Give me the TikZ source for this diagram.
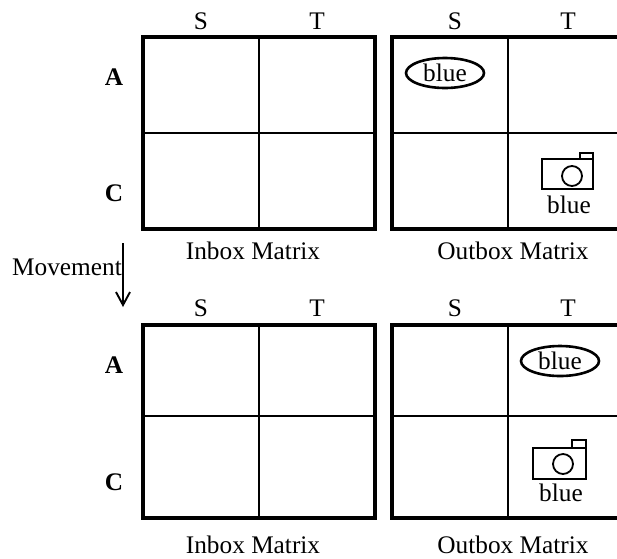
\documentclass[tikz,border=0pt]{standalone}
\usepackage{fontspec}
\setmainfont{Liberation Serif}
\usetikzlibrary{shapes.geometric,arrows.meta}
\begin{document}
\begin{tikzpicture}[x=1pt,y=-1pt,
  lbl/.style={font=\fontsize{25.3}{30}\selectfont, inner sep=0pt},
  rowlbl/.style={font=\fontsize{25.3}{30}\selectfont\bfseries, inner sep=0pt},
  outer/.style={line width=3.2pt},
  inner/.style={line width=2.6pt},
  oval/.style={draw, ellipse, line width=2.6pt, minimum width=78pt, minimum height=30pt, inner sep=0pt, font=\fontsize{25.3}{30}\selectfont},
  cam/.style={line width=1.8pt}
]
\useasboundingbox (0,0) rectangle (617,558);
\clip (0,0) rectangle (617,558);
% ---------- top matrices ----------
\draw[outer] (143,37) rectangle (375,229);
\draw[inner] (259,37) -- (259,229) (143,133) -- (375,133);
\draw[outer] (392,37) rectangle (625,229);
\draw[inner] (508,37) -- (508,229) (392,133) -- (625,133);
% ---------- bottom matrices ----------
\draw[outer] (143,325) rectangle (375,518);
\draw[inner] (259,325) -- (259,518) (143,416) -- (375,416);
\draw[outer] (392,325) rectangle (625,518);
\draw[inner] (508,325) -- (508,518) (392,416) -- (625,416);
% ---------- column labels ----------
\node[lbl] (s1) at (201,21) {S};
\node[lbl] (t1) at (317,21) {T};
\node[lbl] (s2) at (455,21) {S};
\node[lbl] (t2) at (568,21) {T};
\node[lbl] (s3) at (201,308) {S};
\node[lbl] (t3) at (317,308) {T};
\node[lbl] (s4) at (455,308) {S};
\node[lbl] (t4) at (568,308) {T};
% ---------- row labels ----------
\node[rowlbl] (a1) at (114,77) {A};
\node[rowlbl] (c1) at (114,193) {C};
\node[rowlbl] (a2) at (114,365) {A};
\node[rowlbl] (c2) at (114,482) {C};
% ---------- captions ----------
\node[lbl] (in1) at (253,251) {Inbox Matrix};
\node[lbl] (out1) at (513,251) {Outbox Matrix};
\node[lbl] (in2) at (253,545) {Inbox Matrix};
\node[lbl] (out2) at (513,545) {Outbox Matrix};
% ---------- ovals ----------
\node[oval] (e1) at (445,73) {blue};
\node[oval] (e2) at (560,361) {blue};
% ---------- cameras ----------
\draw[cam] (542,159) rectangle (593,189);
\draw[cam] (580,159) -- (580,153) -- (593,153) -- (593,159);
\draw[cam] (572,176) circle (10);
\node[lbl] (cl1) at (569,205) {blue};
\draw[cam] (533,448) rectangle (586,479);
\draw[cam] (572,448) -- (572,440) -- (586,440) -- (586,448);
\draw[cam] (563,464) circle (10);
\node[lbl] (cl2) at (561,493) {blue};
% ---------- movement ----------
\coordinate (mv1) at (123,243);
\coordinate (mv2) at (123,307);
\draw[line width=1.9pt, -{Straight Barb[length=13pt,width=14pt,line width=1.9pt]}] (mv1) -- (mv2);
\node[lbl, anchor=east] (mv) at (122,267) {Movement};
\end{tikzpicture}
\end{document}
